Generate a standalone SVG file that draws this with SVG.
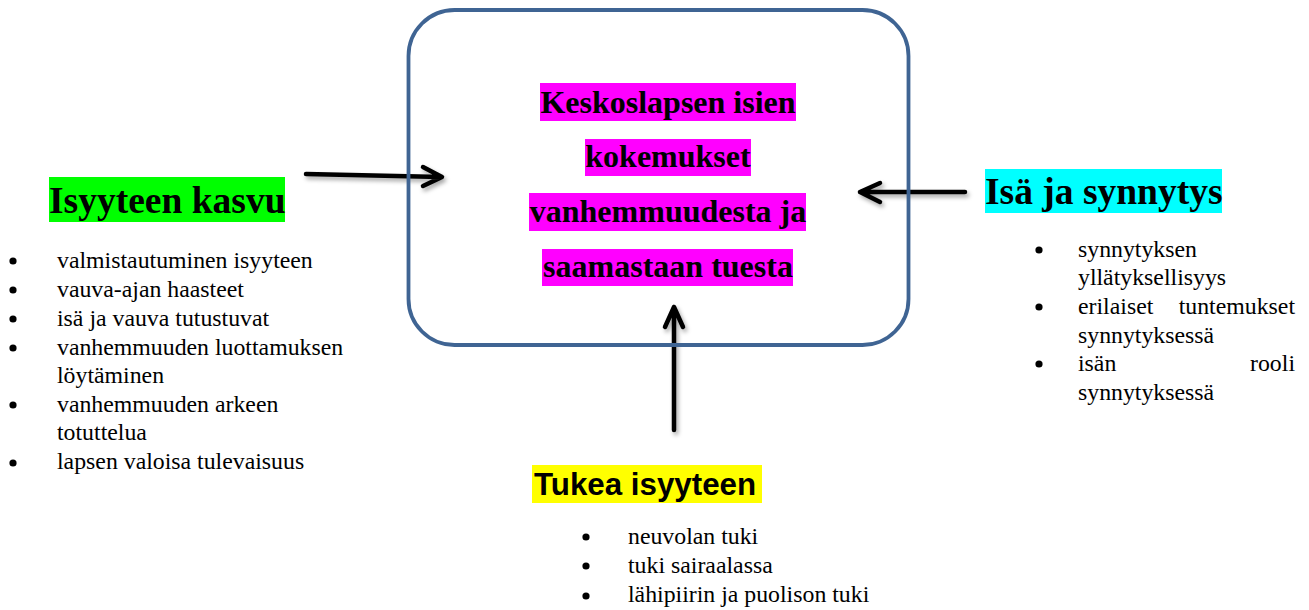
<svg xmlns="http://www.w3.org/2000/svg" width="1309" height="610" viewBox="0 0 1309 610">
<defs>
<filter id="sh" x="-20%" y="-20%" width="140%" height="140%">
<feDropShadow dx="2" dy="3" stdDeviation="2" flood-color="#000" flood-opacity="0.35"/>
</filter>
<style>
.arr{fill:none;stroke:#000;stroke-width:4.5;stroke-linecap:round;stroke-linejoin:round}
.serif{font-family:'Liberation Serif','DejaVu Serif',serif}
.title{font-weight:bold;font-size:37.5px;fill:#000}
.center{font-weight:bold;font-size:32px;fill:#000}
.item{font-size:23.8px;fill:#000}
.stitle{font-family:'Liberation Sans',Arial,sans-serif;font-weight:bold;font-size:31.3px;fill:#000}
</style>
</defs>
<rect width="1309" height="610" fill="#fff"/>
<g id="connectors" filter="url(#sh)">
<path class="arr" d="M306,174 L441,177 M423,167 L442,177 L423,186"/>
<path class="arr" d="M965,192 L860,192 M880,183 L860,192 L880,202"/>
<path class="arr" d="M674,430 L674,307 M665,327 L674,307 L683,327"/>
</g>
<g id="center" class="serif">
<rect x="408.5" y="10" width="500" height="335" rx="46" ry="46" fill="none" stroke="#3F6493" stroke-width="3.8"/>
<rect x="540" y="83" width="256" height="38" fill="#FF00FF"/>
<rect x="585" y="139" width="166" height="37" fill="#FF00FF"/>
<rect x="529" y="193" width="277" height="38" fill="#FF00FF"/>
<rect x="542" y="249" width="251" height="37" fill="#FF00FF"/>
<text class="center" x="668" y="113" text-anchor="middle">Keskoslapsen isien</text>
<text class="center" x="668" y="167" text-anchor="middle">kokemukset</text>
<text class="center" x="668" y="222" text-anchor="middle">vanhemmuudesta ja</text>
<text class="center" x="668" y="277" text-anchor="middle">saamastaan tuesta</text>
</g>
<g id="isyyteen-kasvu" class="serif">
<rect x="49" y="177" width="236" height="45" fill="#00FF00"/>
<text class="title" x="49" y="213">Isyyteen kasvu</text>
<circle cx="13" cy="261" r="3.6"/>
<circle cx="13" cy="290" r="3.6"/>
<circle cx="13" cy="319" r="3.6"/>
<circle cx="13" cy="348" r="3.6"/>
<circle cx="13" cy="405" r="3.6"/>
<circle cx="13" cy="463" r="3.6"/>
<text class="item" x="57" y="268">valmistautuminen isyyteen</text>
<text class="item" x="57" y="297">vauva-ajan haasteet</text>
<text class="item" x="57" y="326">isä ja vauva tutustuvat</text>
<text class="item" x="57" y="355">vanhemmuuden luottamuksen</text>
<text class="item" x="57" y="383">löytäminen</text>
<text class="item" x="57" y="412">vanhemmuuden arkeen</text>
<text class="item" x="57" y="440">totuttelua</text>
<text class="item" x="57" y="469">lapsen valoisa tulevaisuus</text>
</g>
<g id="isa-ja-synnytys" class="serif">
<rect x="985" y="169" width="237" height="44" fill="#00FFFF"/>
<text class="title" x="985" y="204">Isä ja synnytys</text>
<circle cx="1039" cy="250" r="3.6"/>
<circle cx="1039" cy="307" r="3.6"/>
<circle cx="1039" cy="364" r="3.6"/>
<text class="item" x="1078" y="257">synnytyksen</text>
<text class="item" x="1078" y="285">yllätyksellisyys</text>
<text class="item" x="1078" y="314">erilaiset</text>
<text class="item" x="1295" y="314" text-anchor="end">tuntemukset</text>
<text class="item" x="1078" y="343">synnytyksessä</text>
<text class="item" x="1078" y="371">isän</text>
<text class="item" x="1295" y="371" text-anchor="end">rooli</text>
<text class="item" x="1078" y="400">synnytyksessä</text>
</g>
<g id="tukea-isyyteen">
<rect x="532" y="465" width="230" height="38" fill="#FFFF00"/>
<text class="stitle" x="534" y="495">Tukea isyyteen</text>
<g class="serif">
<circle cx="586" cy="537" r="3.6"/>
<circle cx="586" cy="566" r="3.6"/>
<circle cx="586" cy="596" r="3.6"/>
<text class="item" x="628" y="544">neuvolan tuki</text>
<text class="item" x="628" y="573">tuki sairaalassa</text>
<text class="item" x="628" y="602">lähipiirin ja puolison tuki</text>
</g>
</g>
</svg>
